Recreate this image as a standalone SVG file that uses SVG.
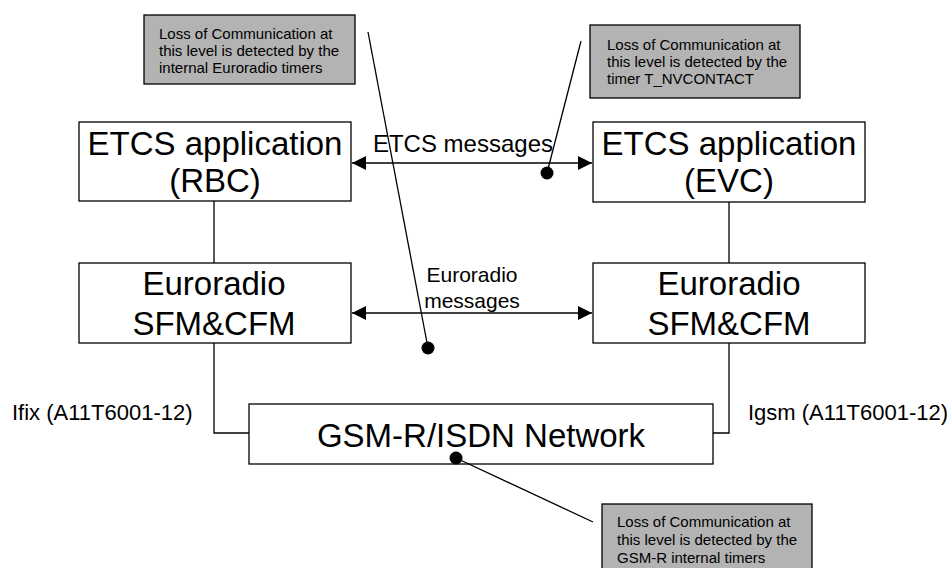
<svg xmlns="http://www.w3.org/2000/svg" width="952" height="568" viewBox="0 0 952 568">
<style>
.box{fill:#fff;stroke:#000;stroke-width:1.3}
.note{fill:#b3b3b3;stroke:#000;stroke-width:1.3}
.big{font-family:"Liberation Sans",Arial,sans-serif;font-size:33px;fill:#000;text-anchor:middle}
.mid{font-family:"Liberation Sans",Arial,sans-serif;font-size:21px;fill:#000;text-anchor:middle}
.lbl{font-family:"Liberation Sans",Arial,sans-serif;font-size:22px;fill:#000}
.sm{font-family:"Liberation Sans",Arial,sans-serif;font-size:15px;fill:#000}
.ln{stroke:#000;stroke-width:1.3;fill:none}
</style>
<defs>
<marker id="ah" viewBox="0 0 14 14" refX="14" refY="7" markerWidth="14" markerHeight="14" markerUnits="userSpaceOnUse" orient="auto-start-reverse">
<path d="M0,0 L14,7 L0,14 Z" fill="#000"/>
</marker>
</defs>
<rect width="952" height="568" fill="#fff"/>
<g id="connectors">
<line class="ln" x1="214" y1="201" x2="214" y2="263"/>
<line class="ln" x1="729" y1="202" x2="729" y2="263"/>
<polyline class="ln" points="214,343 214,433 249,433"/>
<polyline class="ln" points="729,343 729,433 713,433"/>
<line class="ln" x1="352" y1="163" x2="592" y2="163" marker-start="url(#ah)" marker-end="url(#ah)"/>
<line class="ln" x1="352" y1="313" x2="592" y2="313" marker-start="url(#ah)" marker-end="url(#ah)"/>
<text class="mid" x="553" y="152" style="font-size:24px;text-anchor:end">ETCS messages</text>
<text class="mid" x="472" y="282">Euroradio</text>
<text class="mid" x="472" y="308">messages</text>
<text class="lbl" x="12" y="420">Ifix (A11T6001-12)</text>
<text class="lbl" x="748" y="420">Igsm (A11T6001-12)</text>
</g>
<g id="rbc">
<rect class="box" x="79" y="122" width="272" height="79"/>
<text class="big" x="215" y="155">ETCS application</text>
<text class="big" x="215" y="192">(RBC)</text>
</g>
<g id="evc">
<rect class="box" x="593" y="122" width="272" height="80"/>
<text class="big" x="729" y="155">ETCS application</text>
<text class="big" x="729" y="192">(EVC)</text>
</g>
<g id="euro-left">
<rect class="box" x="79" y="263" width="272" height="80"/>
<text class="big" x="214" y="295">Euroradio</text>
<text class="big" x="214" y="335">SFM&amp;CFM</text>
</g>
<g id="euro-right">
<rect class="box" x="593" y="263" width="272" height="80"/>
<text class="big" x="729" y="295">Euroradio</text>
<text class="big" x="729" y="335">SFM&amp;CFM</text>
</g>
<g id="gsm">
<rect class="box" x="249" y="404" width="464" height="60"/>
<text class="big" x="481" y="447">GSM-R/ISDN Network</text>
</g>
<g id="note-euroradio">
<rect class="note" x="144" y="15" width="211" height="69"/>
<text class="sm" x="159" y="39">Loss of Communication at</text>
<text class="sm" x="159" y="56">this level is detected by the</text>
<text class="sm" x="159" y="73">internal Euroradio timers</text>
</g>
<g id="note-nvcontact">
<rect class="note" x="590" y="25" width="210" height="73"/>
<text class="sm" x="607" y="50">Loss of Communication at</text>
<text class="sm" x="607" y="67">this level is detected by the</text>
<text class="sm" x="607" y="84">timer T_NVCONTACT</text>
</g>
<g id="note-gsm">
<rect class="note" x="602" y="504" width="210" height="73"/>
<text class="sm" x="617" y="527">Loss of Communication at</text>
<text class="sm" x="617" y="545">this level is detected by the</text>
<text class="sm" x="617" y="563">GSM-R internal timers</text>
</g>
<g id="pointers">
<line class="ln" x1="368" y1="32" x2="428" y2="348"/>
<line class="ln" x1="581" y1="41" x2="547" y2="173"/>
<line class="ln" x1="456" y1="458" x2="593" y2="522"/>
<circle cx="428" cy="348" r="6.5" fill="#000"/>
<circle cx="547" cy="173" r="6.5" fill="#000"/>
<circle cx="456" cy="458" r="6.5" fill="#000"/>
</g>
</svg>
